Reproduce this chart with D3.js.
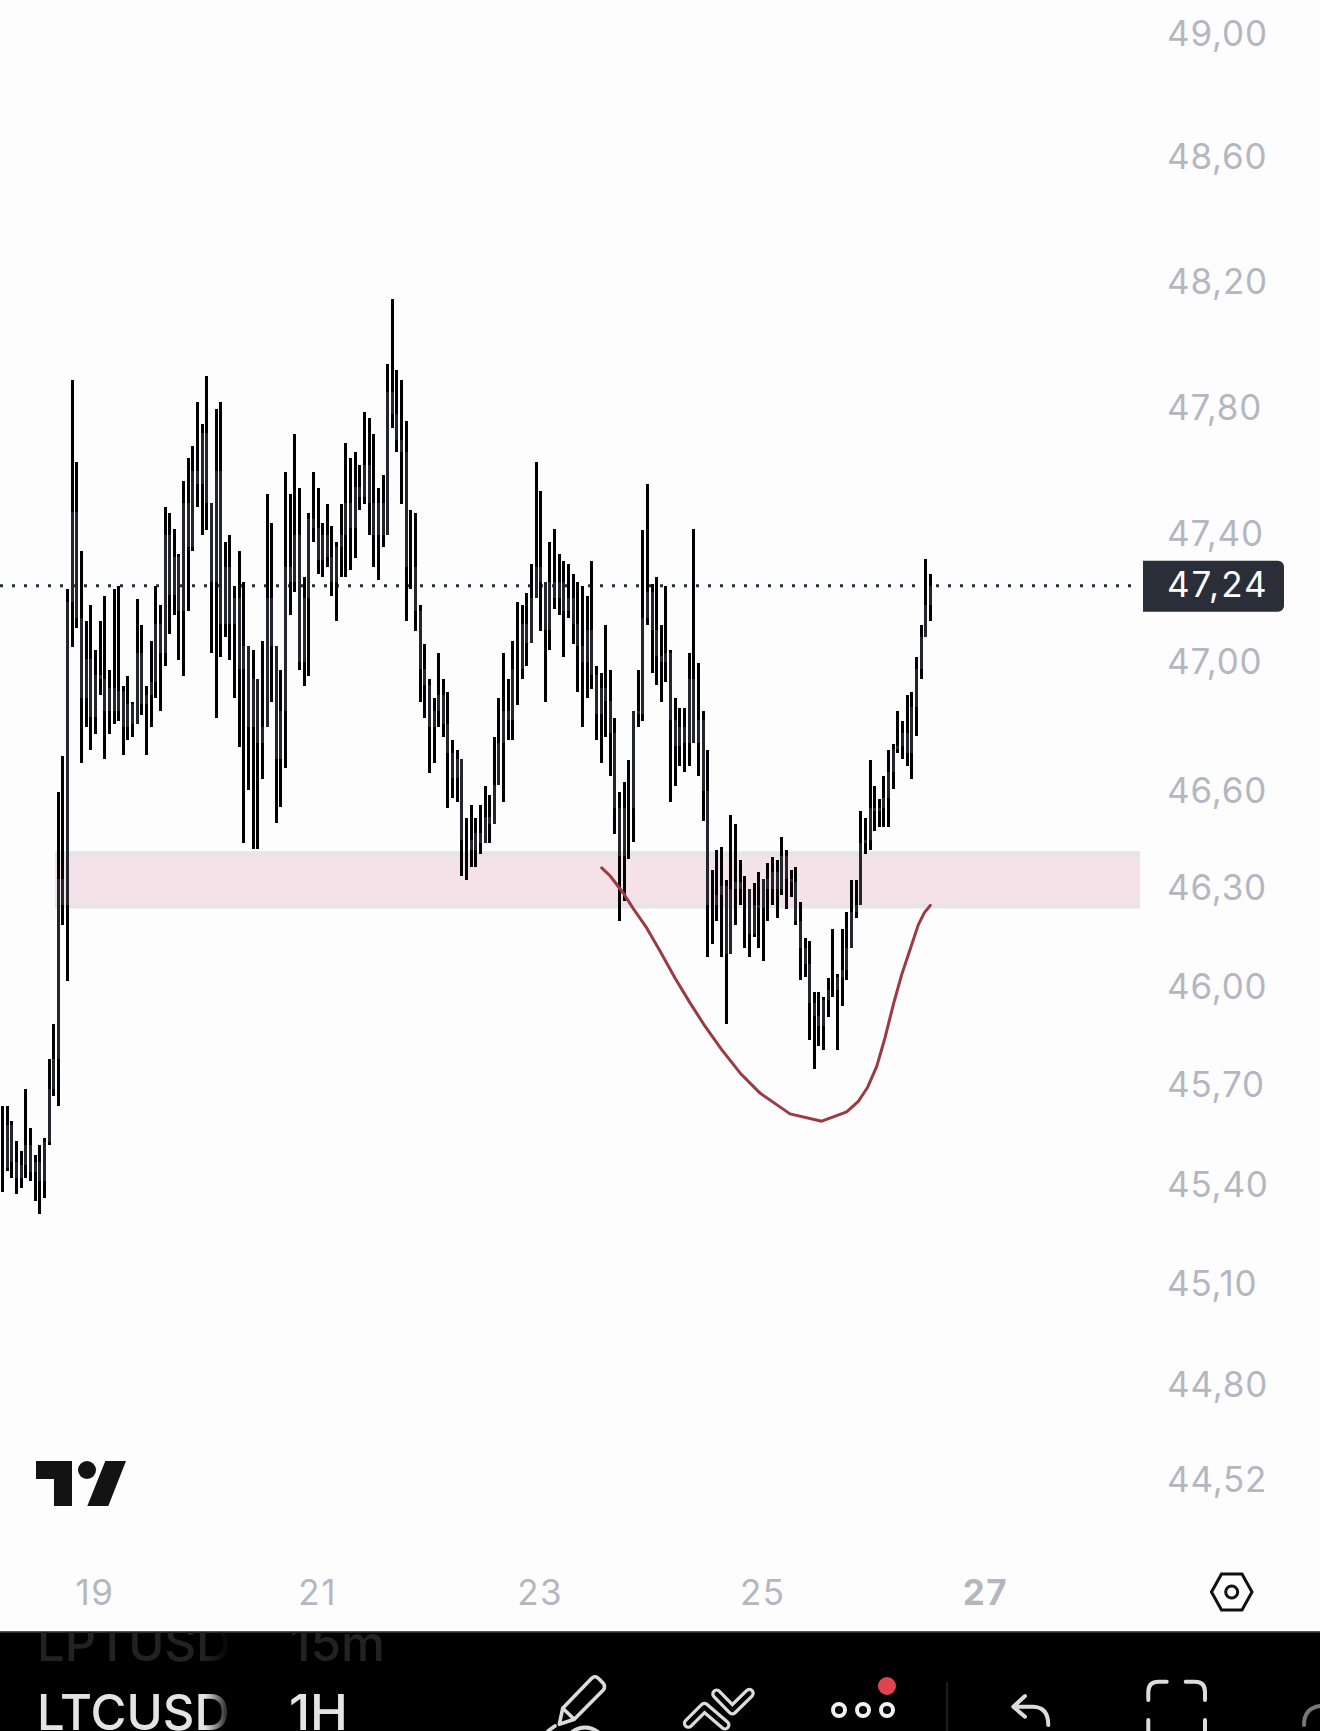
<!DOCTYPE html>
<html>
<head>
<meta charset="utf-8">
<script src="https://cdn.jsdelivr.net/npm/d3@7"></script>
<style>
  html, body { margin: 0; padding: 0; background: #fefdfe; }
  svg { display: block; }
</style>
</head>
<body>
<div id="chart"></div>
<script>
// hourly LTCUSD bars
var highs = [45.639,45.639,45.591,45.531,45.501,45.690,45.570,45.489,45.519,45.540,
  45.779,45.888,46.599,46.710,47.231,47.890,47.630,47.350,47.130,47.180,
  47.040,47.130,47.209,46.978,47.231,47.240,46.928,46.959,46.878,47.199,
  47.118,46.928,47.068,47.240,47.180,47.488,47.469,47.419,47.340,47.570,
  47.640,47.680,47.820,47.750,47.900,47.419,47.798,47.820,47.378,47.400,
  47.240,47.350,47.250,47.009,47.040,46.828,47.068,47.529,47.438,46.999,
  46.978,47.598,47.529,47.719,47.548,47.268,47.469,47.598,47.548,47.438,
  47.497,47.428,47.378,47.497,47.690,47.640,47.659,47.621,47.788,47.769,
  47.718,47.548,47.589,47.941,48.147,47.919,47.890,47.760,47.479,47.469,
  47.180,47.059,46.950,46.890,47.031,46.950,46.909,46.760,46.729,46.679,
  46.519,46.559,46.519,46.559,46.617,46.589,46.769,46.890,47.031,46.950,
  47.068,47.190,47.180,47.218,47.309,47.630,47.538,47.159,47.378,47.419,
  47.340,47.318,47.309,47.278,47.250,47.240,47.209,47.318,46.990,46.968,
  47.118,46.978,46.828,46.598,46.629,46.698,46.850,46.978,47.416,47.561,
  47.246,47.268,47.118,47.240,47.040,46.890,46.859,46.859,47.031,47.419,
  46.999,46.850,46.729,46.359,46.420,46.429,46.328,46.528,46.500,46.389,
  46.340,46.249,46.319,46.350,46.310,46.380,46.399,46.389,46.460,46.420,
  46.359,46.368,46.258,46.148,46.139,45.985,45.985,45.970,46.028,46.178,
  46.038,46.178,46.230,46.328,46.328,46.540,46.519,46.698,46.617,46.577,
  46.648,46.729,46.748,46.850,46.819,46.900,46.909,47.018,47.118,47.325,
  47.278];
var lows = [45.378,45.441,45.420,45.372,45.390,45.420,45.411,45.350,45.311,45.360,
  45.519,45.669,45.639,46.190,46.019,47.049,47.109,46.689,46.800,46.729,
  46.779,46.900,46.701,46.779,46.810,46.819,46.714,46.759,46.769,46.828,
  46.838,46.714,46.800,46.890,46.850,46.990,47.090,47.149,47.009,46.959,
  47.162,47.350,47.488,47.398,47.416,47.031,46.828,47.018,47.081,47.009,
  46.890,46.738,46.442,46.603,46.423,46.423,46.639,46.999,46.878,46.503,
  46.552,46.673,47.149,47.221,46.978,46.928,46.959,47.378,47.278,47.268,
  47.300,47.209,47.130,47.268,47.268,47.290,47.328,47.479,47.497,47.398,
  47.300,47.258,47.360,47.438,47.738,47.659,47.497,47.130,47.231,47.099,
  46.878,46.828,46.658,46.689,46.800,46.769,46.549,46.580,46.568,46.340,
  46.328,46.368,46.368,46.408,46.450,46.441,46.500,46.658,46.568,46.760,
  46.760,46.869,46.950,46.990,47.068,47.259,47.099,46.878,47.040,47.168,
  47.149,47.018,47.140,47.059,46.909,46.800,46.890,46.918,46.760,46.689,
  46.769,46.648,46.469,46.200,46.261,46.392,46.445,46.800,46.819,47.118,
  46.968,46.931,46.878,46.940,46.568,46.617,46.679,46.661,46.679,46.819,
  46.648,46.509,46.090,46.132,46.200,46.090,45.888,46.178,46.190,46.249,
  46.120,46.090,46.151,46.120,46.080,46.200,46.249,46.209,46.282,46.239,
  46.276,46.190,46.022,46.031,45.839,45.751,45.821,45.809,45.909,45.970,
  45.809,45.940,46.022,46.120,46.209,46.282,46.408,46.420,46.478,46.491,
  46.491,46.491,46.608,46.720,46.701,46.679,46.639,46.772,46.950,47.099,
  47.130];
var closes = [45.45,45.58,45.47,45.42,45.46,45.52,45.44,45.47,45.41,45.53,
  45.69,45.78,46.33,46.25,47.19,47.47,47.14,46.89,47.01,46.83,
  46.96,46.95,46.85,46.92,46.85,46.91,46.80,46.87,46.81,47.03,
  46.87,46.90,46.94,47.12,47.03,47.40,47.21,47.33,47.16,47.50,
  47.36,47.60,47.56,47.72,47.50,47.25,47.60,47.12,47.30,47.12,
  47.20,46.98,47.05,46.80,46.95,46.75,46.80,47.20,47.05,46.70,
  46.85,47.30,47.25,47.40,47.00,47.20,47.45,47.42,47.32,47.40,
  47.33,47.25,47.36,47.40,47.50,47.42,47.55,47.52,47.62,47.50,
  47.40,47.50,47.40,47.85,47.78,47.70,47.66,47.30,47.30,47.16,
  46.98,46.93,46.80,46.85,46.90,46.81,46.72,46.64,46.70,46.45,
  46.45,46.42,46.47,46.44,46.52,46.50,46.62,46.75,46.85,46.82,
  46.98,46.98,47.12,47.06,47.20,47.30,47.25,47.10,47.25,47.20,
  47.25,47.16,47.20,47.12,47.05,47.00,47.10,46.96,46.84,46.92,
  46.88,46.78,46.55,46.40,46.55,46.55,46.85,46.84,47.14,47.22,
  47.10,47.02,47.00,47.03,46.82,46.74,46.80,46.75,46.95,46.75,
  46.82,46.60,46.25,46.25,46.28,46.31,46.10,46.30,46.32,46.30,
  46.30,46.16,46.25,46.24,46.33,46.30,46.35,46.30,46.40,46.33,
  46.32,46.20,46.12,46.07,45.95,45.91,45.88,45.96,45.99,45.99,
  46.03,46.05,46.12,46.23,46.25,46.44,46.45,46.55,46.54,46.55,
  46.58,46.66,46.73,46.74,46.78,46.72,46.86,46.98,47.08,47.18,
  47.24];

var priceTicks = [49, 48.6, 48.2, 47.8, 47.4, 47, 46.6, 46.3, 46, 45.7, 45.4, 45.1, 44.8, 44.52];
var dayBars = [20, 68, 116, 164, 212];
var dayLabels = ["19", "21", "23", "25", "27"];
var lastPrice = 47.24;

// the pink zone
var zoneBars = [11.3, 245.2];
var zonePrices = [46.415, 46.24];

// the hand drawn red curve
var curveBars = [129.15,130.94,133.8,135.96,138.85,141.72,144.95,148.19,151.42,155.02,158.98,163.28,
  169.75,176.6,181.97,184.48,186.42,188.45,190.24,192.03,193.85,195.64,197.43,198.7,200];
var curvePrices = [46.364,46.340,46.287,46.239,46.180,46.109,46.027,45.951,45.880,45.809,45.738,45.677,
  45.614,45.592,45.620,45.652,45.693,45.758,45.845,45.946,46.038,46.114,46.190,46.226,46.249];

var width = 1320, height = 1731;
var paneTop = 1632;
var labelFont = "Inter, 'Noto Sans', sans-serif";

var x = d3.scaleLinear().domain([0, 200]).range([2.7, 930.3]);
var y = d3.scaleLog().domain([49, 44.52]).range([34, 1480]);

// prices are shown with a decimal comma
var comma = d3.formatLocale({ decimal: ",", thousands: ".", grouping: [3], currency: ["", ""] }).format(".2f");

var svg = d3.select("#chart").append("svg")
  .attr("width", width)
  .attr("height", height);

svg.append("rect")
  .attr("width", width)
  .attr("height", height)
  .attr("fill", "#fefdfe");

// zone, with its grey edges
var zoneTop = y(zonePrices[0]), zoneBottom = y(zonePrices[1]);
svg.append("rect")
  .attr("x", x(zoneBars[0]))
  .attr("y", zoneTop)
  .attr("width", x(zoneBars[1]) - x(zoneBars[0]))
  .attr("height", zoneBottom - zoneTop)
  .attr("fill", "#f5e1e8");
svg.append("rect")
  .attr("x", x(zoneBars[0]))
  .attr("y", zoneTop)
  .attr("width", x(zoneBars[1]) - x(zoneBars[0]))
  .attr("height", 6)
  .attr("fill", "#e6e5e6");
svg.append("rect")
  .attr("x", x(zoneBars[0]))
  .attr("y", zoneBottom - 4)
  .attr("width", x(zoneBars[1]) - x(zoneBars[0]))
  .attr("height", 4)
  .attr("fill", "#e6e5e6");

// dotted last price line
svg.append("line")
  .attr("x1", 0)
  .attr("x2", 1136)
  .attr("y1", y(lastPrice))
  .attr("y2", y(lastPrice))
  .attr("stroke", "#2a2e39")
  .attr("stroke-width", 3)
  .attr("stroke-dasharray", "3 9")
  .attr("stroke-dashoffset", "0");

// bars: black high-low, lighter open-close over it
var bars = svg.append("g").attr("shape-rendering", "crispEdges");

bars.selectAll("line.wick")
  .data(highs)
  .enter()
  .append("line")
  .attr("class", "wick")
  .attr("x1", function (d, i) { return x(i); })
  .attr("x2", function (d, i) { return x(i); })
  .attr("y1", function (d) { return y(d); })
  .attr("y2", function (d, i) { return y(lows[i]); })
  .attr("stroke", "#000")
  .attr("stroke-width", 3);

bars.selectAll("line.body")
  .data(closes)
  .enter()
  .append("line")
  .attr("class", "body")
  .attr("x1", function (d, i) { return x(i); })
  .attr("x2", function (d, i) { return x(i); })
  .attr("y1", function (d, i) { return y(i > 0 ? closes[i - 1] : d); })
  .attr("y2", function (d) { return y(d); })
  .attr("stroke", "#24262e")
  .attr("stroke-width", 3);

// red curve
var curveLine = d3.line()
  .x(function (d) { return x(d); })
  .y(function (d, i) { return y(curvePrices[i]); })
  .curve(d3.curveLinear);

svg.append("path")
  .attr("d", curveLine(curveBars))
  .attr("fill", "none")
  .attr("stroke", "#9c3a42")
  .attr("stroke-width", 3)
  .attr("stroke-linecap", "round")
  .attr("stroke-linejoin", "round");

// price axis
var yAxis = d3.axisRight(y)
  .tickValues(priceTicks)
  .tickFormat(comma)
  .tickSize(0)
  .tickPadding(0);

var yAxisG = svg.append("g")
  .attr("transform", "translate(1167,0)")
  .call(yAxis);
yAxisG.select(".domain").remove();
yAxisG.selectAll("text")
  .attr("font-family", labelFont)
  .attr("font-size", 35)
  .attr("letter-spacing", 0.8)
  .attr("fill", "#b4b7c0");

// last price tag
svg.append("path")
  .attr("d", "M1143," + (y(lastPrice) - 25) + " H1278 a6,6 0 0 1 6,6 V" + (y(lastPrice) + 20) + " a6,6 0 0 1 -6,6 H1143 Z")
  .attr("fill", "#2a2e39");
svg.append("text")
  .attr("x", 1167)
  .attr("y", y(lastPrice))
  .attr("dy", "0.32em")
  .attr("font-family", labelFont)
  .attr("font-size", 35)
  .attr("letter-spacing", 2)
  .attr("fill", "#fff")
  .text(comma(lastPrice));

// time axis
var xAxis = d3.axisBottom(x)
  .tickValues(dayBars)
  .tickFormat(function (d, i) { return dayLabels[i]; })
  .tickSize(0)
  .tickPadding(0);

var xAxisG = svg.append("g")
  .attr("transform", "translate(-1,1580)")
  .call(xAxis);
xAxisG.select(".domain").remove();
xAxisG.selectAll("text")
  .attr("font-family", labelFont)
  .attr("font-size", 35)
  .attr("letter-spacing", 1.5)
  .attr("fill", "#b4b7c0")
  .attr("font-weight", function (d, i) { return dayLabels[i] == "27" ? 700 : 400; });

// TradingView mark
svg.append("path")
  .attr("d", "M36,1461 H72 V1506 H54 V1479 H36 Z M105.3,1461 H126 L108.3,1506 H87.3 Z")
  .attr("fill", "#131313");
svg.append("circle")
  .attr("cx", 87)
  .attr("cy", 1470)
  .attr("r", 9)
  .attr("fill", "#131313");

// settings hexagon
svg.append("path")
  .attr("d", "M1211.5,1592 L1221.5,1574 H1242 L1252,1592 L1242,1610 H1221.5 Z")
  .attr("fill", "none")
  .attr("stroke", "#111")
  .attr("stroke-width", 3);
svg.append("circle")
  .attr("cx", 1231.7)
  .attr("cy", 1592)
  .attr("r", 6)
  .attr("fill", "none")
  .attr("stroke", "#111")
  .attr("stroke-width", 3);

// toolbar
var defs = svg.append("defs");
defs.append("clipPath")
  .attr("id", "paneClip")
  .append("rect")
  .attr("x", 0)
  .attr("y", paneTop)
  .attr("width", width)
  .attr("height", height - paneTop);

var fade = defs.append("linearGradient")
  .attr("id", "nameFade")
  .attr("gradientUnits", "userSpaceOnUse")
  .attr("x1", 205).attr("x2", 232).attr("y1", 0).attr("y2", 0);
fade.append("stop").attr("offset", 0).attr("stop-color", "#e4e4e4");
fade.append("stop").attr("offset", 1).attr("stop-color", "#e4e4e4").attr("stop-opacity", 0);

var fadeDark = defs.append("linearGradient")
  .attr("id", "nameFadeDark")
  .attr("gradientUnits", "userSpaceOnUse")
  .attr("x1", 205).attr("x2", 232).attr("y1", 0).attr("y2", 0);
fadeDark.append("stop").attr("offset", 0).attr("stop-color", "#222");
fadeDark.append("stop").attr("offset", 1).attr("stop-color", "#222").attr("stop-opacity", 0);

svg.append("rect")
  .attr("x", 0)
  .attr("y", paneTop)
  .attr("width", width)
  .attr("height", height - paneTop)
  .attr("fill", "#000");
svg.append("rect")
  .attr("x", 0)
  .attr("y", paneTop - 1)
  .attr("width", width)
  .attr("height", 1.5)
  .attr("fill", "#555");

var pane = svg.append("g").attr("clip-path", "url(#paneClip)");

pane.append("text")
  .attr("x", 37).attr("y", 1661)
  .attr("font-family", labelFont).attr("font-size", 49).attr("font-weight", 500)
  .attr("fill", "url(#nameFadeDark)")
  .text("LPTUSDT");
pane.append("text")
  .attr("x", 290).attr("y", 1661)
  .attr("font-family", labelFont).attr("font-size", 49).attr("font-weight", 500)
  .attr("fill", "#222")
  .attr("textLength", 95)
  .attr("lengthAdjust", "spacingAndGlyphs")
  .text("15m");
pane.append("text")
  .attr("x", 37).attr("y", 1730)
  .attr("font-family", labelFont).attr("font-size", 49).attr("font-weight", 500)
  .attr("fill", "url(#nameFade)")
  .text("LTCUSDT");
pane.append("text")
  .attr("x", 289).attr("y", 1730)
  .attr("font-family", labelFont).attr("font-size", 49).attr("font-weight", 500)
  .attr("fill", "#e4e4e4")
  .attr("textLength", 59)
  .attr("lengthAdjust", "spacingAndGlyphs")
  .text("1H");

var iconStroke = "#dcdcdc";

function icon(d, w, color) {
  return pane.append("path")
    .attr("d", d)
    .attr("fill", "none")
    .attr("stroke", color || iconStroke)
    .attr("stroke-width", w)
    .attr("stroke-linecap", "round")
    .attr("stroke-linejoin", "round");
}

// pencil
icon("M559.3,1724.3 L562.7,1708.3 L591.7,1678.3 Q595,1675 598.5,1678.5 L603,1683 Q606,1686.5 603.3,1690 L574.3,1719.3 Z M562.7,1708.3 L574.3,1719.3", 3.6);
icon("M568,1735 Q585,1720 602,1735", 3.6);
icon("M548,1731 L555,1726", 3.6);

// two chevrons
var chevrons = "M716.7,1694 L732.3,1710 L749.3,1693.3 M688.3,1723.3 L704.3,1707.3 L725,1725";
icon(chevrons, 11);
icon(chevrons, 4.5, "#000");

// three dots and the red marker
pane.selectAll("circle.dot")
  .data([839, 863, 887])
  .enter()
  .append("circle")
  .attr("class", "dot")
  .attr("cx", function (d) { return d; })
  .attr("cy", 1710)
  .attr("r", 6)
  .attr("fill", "none")
  .attr("stroke", "#f0f0f0")
  .attr("stroke-width", 4);
pane.append("circle")
  .attr("cx", 887)
  .attr("cy", 1686)
  .attr("r", 9)
  .attr("fill", "#e0454f");

// separator
pane.append("line")
  .attr("x1", 947).attr("x2", 947)
  .attr("y1", 1682).attr("y2", height)
  .attr("stroke", "#3a3a3a")
  .attr("stroke-width", 1);

// undo
icon("M1025,1696 L1013.3,1706.7 L1025,1716.7 M1013.3,1706.7 H1033 Q1048.3,1707 1048.3,1725", 4);

// fullscreen corners
icon("M1148.3,1700 V1692 Q1148.3,1681.7 1158.6,1681.7 H1166.7 M1185.7,1681.7 H1195 Q1205,1681.7 1205,1692 V1700 M1148.3,1720 V1733 M1205,1720 V1733", 4);

// cut off arc at the edge
icon("M1304,1725 Q1304,1708 1320,1706", 4, "#777");
</script>
</body>
</html>
